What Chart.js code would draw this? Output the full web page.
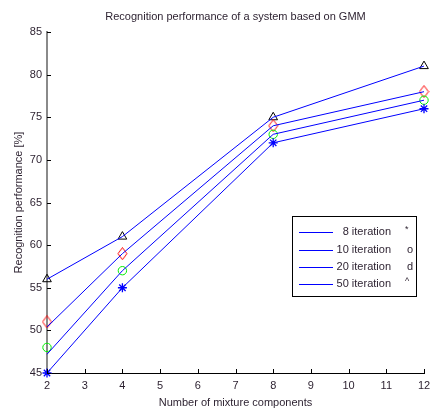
<!DOCTYPE html>
<html>
<head>
<meta charset="utf-8">
<script src="https://cdn.jsdelivr.net/npm/chart.js@4"></script>
<style>
  body { margin: 0; background: #fff; }
  #wrap { width: 430px; height: 410px; }
</style>
</head>
<body>
<div id="wrap"><canvas id="myChart" width="430" height="410"></canvas></div>
<script>
// data
const components = [2, 4, 8, 12];
const iter8 = [45, 55, 72, 76];
const iter10 = [48, 57, 73, 77];
const iter20 = [51, 59, 74, 78];
const iter50 = [56, 61, 75, 81];
// the plotted lines do not pass exactly through every marker
const line10 = [47.2, 57, 73, 77];
const line20 = [50.4, 59, 74, 78];
const legendLabels = ['8 iteration', '10 iteration', '20 iteration', '50 iteration'];
const legendMarks = ['*', 'o', 'd', '^'];
const xTicks = [2, 3, 4, 5, 6, 7, 8, 9, 10, 11, 12];
const yTicks = [45, 50, 55, 60, 65, 70, 75, 80, 85];

const textColor = '#2a1f2e';
const font = "'Liberation Sans', Arial, sans-serif";

// matlab style diamond, taller than wide
function diamondMarker() {
    const c = document.createElement('canvas');
    c.width = 11;
    c.height = 13;
    const g = c.getContext('2d');
    g.strokeStyle = '#ff0000';
    g.lineWidth = 1;
    g.beginPath();
    g.moveTo(5.5, 0.5);
    g.lineTo(10, 6.5);
    g.lineTo(5.5, 12.5);
    g.lineTo(1, 6.5);
    g.closePath();
    g.stroke();
    return c;
}

function pts(ys) {
    return components.map((x, i) => ({ x: x, y: ys[i] }));
}

function lineSet(ys) {
    return {
        data: pts(ys),
        borderColor: '#0000ff',
        borderWidth: 1,
        pointRadius: 0,
        showLine: true,
        fill: false,
        clip: false
    };
}

function markSet(ys, style, color, radius, width) {
    return {
        data: pts(ys),
        showLine: false,
        pointStyle: style,
        pointRadius: radius,
        pointBorderColor: color,
        pointBackgroundColor: 'rgba(0,0,0,0)',
        pointBorderWidth: width || 1,
        clip: false
    };
}

const extras = {
    id: 'extras',
    afterDraw(chart) {
        const ctx = chart.ctx;
        const area = chart.chartArea;
        const xs = chart.scales.x;
        const ys = chart.scales.y;
        ctx.save();
        // inside ticks
        ctx.strokeStyle = '#000';
        ctx.lineWidth = 1;
        ctx.beginPath();
        xTicks.forEach(v => {
            const px = Math.round(xs.getPixelForValue(v)) + 0.5;
            ctx.moveTo(px, area.bottom);
            ctx.lineTo(px, area.bottom - 4);
        });
        yTicks.forEach(v => {
            const py = Math.round(ys.getPixelForValue(v)) + 0.5;
            ctx.moveTo(area.left, py);
            ctx.lineTo(area.left + 4, py);
        });
        ctx.stroke();

        // title
        ctx.fillStyle = textColor;
        ctx.font = '11px ' + font;
        ctx.textAlign = 'center';
        ctx.textBaseline = 'middle';
        ctx.fillText('Recognition performance of a system based on GMM', (area.left + area.right) / 2, 17);

        // legend box
        const bx = 292.5, by = 216.5, bw = 124, bh = 80;
        ctx.fillStyle = '#fff';
        ctx.fillRect(bx, by, bw, bh);
        ctx.strokeStyle = '#000';
        ctx.strokeRect(bx, by, bw, bh);
        const rows = [232, 250, 267, 284];
        rows.forEach((ry, i) => {
            ctx.strokeStyle = '#0000ff';
            ctx.beginPath();
            ctx.moveTo(299, ry + 0.5);
            ctx.lineTo(333, ry + 0.5);
            ctx.stroke();
            ctx.fillStyle = textColor;
            ctx.font = '11px ' + font;
            ctx.textAlign = 'right';
            ctx.fillText(legendLabels[i], 391, ry);
            ctx.textAlign = 'left';
            if (i === 0 || i === 3) {
                ctx.font = '9px ' + font;
                ctx.fillText(legendMarks[i], 405, ry - 2);
            } else {
                ctx.fillText(legendMarks[i], 407, ry);
            }
        });
        ctx.restore();
    }
};

new Chart(document.getElementById('myChart').getContext('2d'), {
    type: 'line',
    data: {
        datasets: [
            lineSet(iter50),
            lineSet(line20),
            lineSet(line10),
            lineSet(iter8),
            markSet(iter8, 'star', '#0000ff', 4.5, 1.3),
            markSet(iter10, 'circle', '#00ee00', 4.2),
            markSet(iter20, diamondMarker(), '#ff0000', 5),
            markSet(iter50, 'triangle', '#000000', 5)
        ]
    },
    options: {
        responsive: false,
        animation: false,
        layout: { padding: { top: 32, right: 3, left: 0, bottom: 0 } },
        plugins: {
            legend: { display: false },
            tooltip: { enabled: false }
        },
        scales: {
            x: {
                type: 'linear',
                min: 2,
                max: 12,
                afterFit: s => { s.height = 37; s.paddingLeft = 0; s.paddingRight = 0; },
                afterBuildTicks: s => { s.ticks = xTicks.map(v => ({ value: v })); },
                grid: { display: false, drawTicks: false },
                border: { color: '#000', width: 1 },
                ticks: { color: textColor, font: { size: 11, family: font }, padding: 6, maxRotation: 0 },
                title: { display: true, text: 'Number of mixture components', color: textColor, font: { size: 11, family: font }, padding: { top: 2, bottom: 0 } }
            },
            y: {
                min: 45,
                max: 85,
                afterFit: s => { s.width = 47; s.paddingTop = 0; s.paddingBottom = 0; },
                afterBuildTicks: s => { s.ticks = yTicks.map(v => ({ value: v })); },
                grid: { display: false, drawTicks: false },
                border: { color: '#8a8a8a', width: 2 },
                ticks: { color: textColor, font: { size: 11, family: font }, padding: 5 },
                title: { display: true, text: 'Recognition performance [%]', color: textColor, font: { size: 11, family: font }, padding: { top: 12, bottom: 0 } }
            }
        }
    },
    plugins: [extras]
});
</script>
</body>
</html>
